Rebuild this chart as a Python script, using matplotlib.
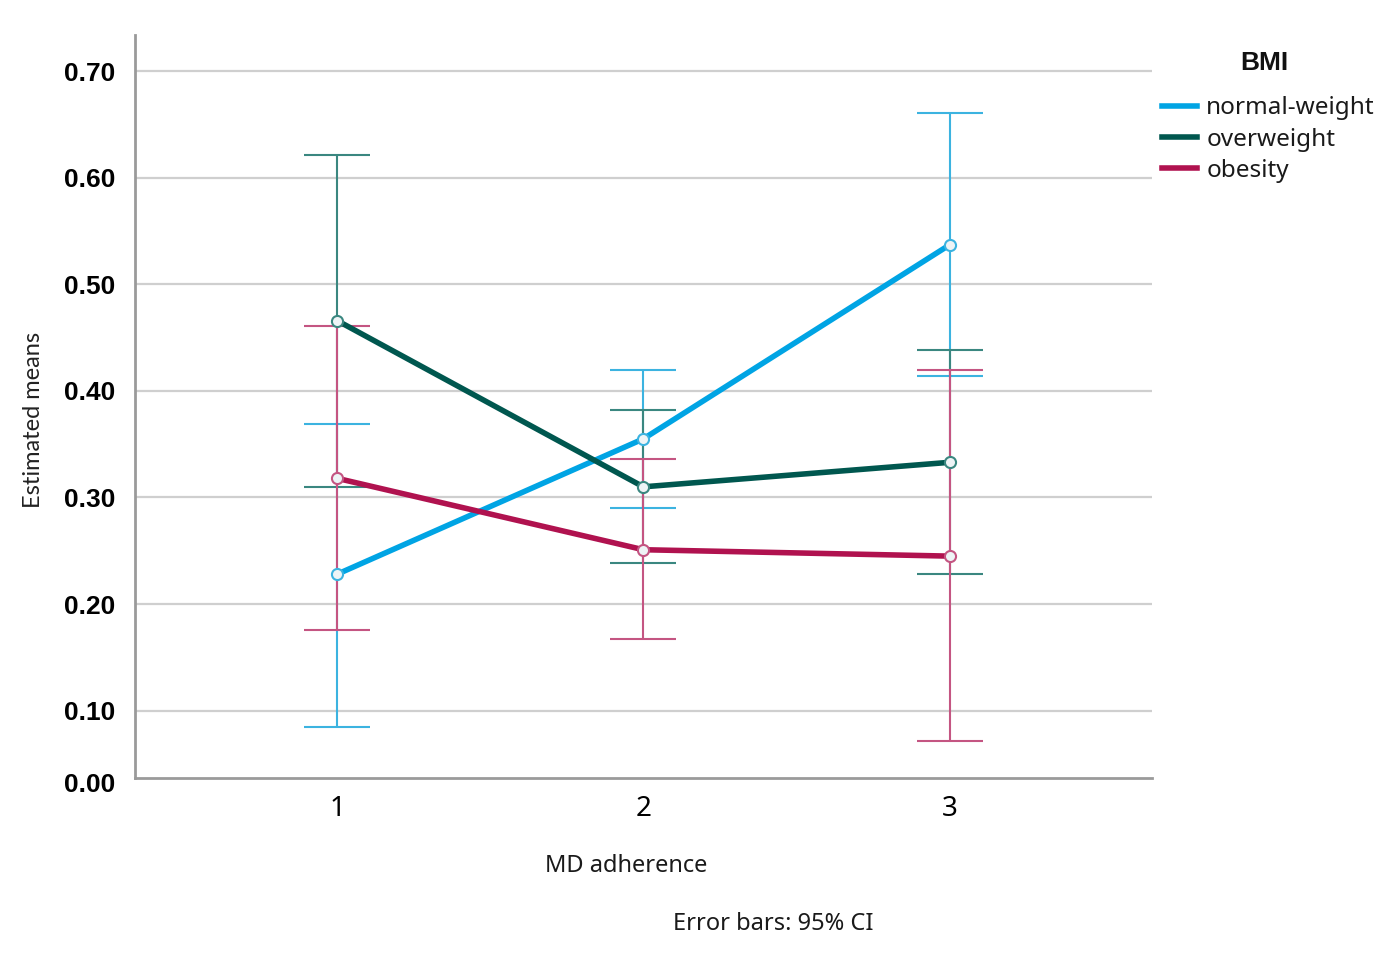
import numpy as np
import matplotlib.pyplot as plt

# MD adherence groups
groups = [1, 2, 3]
series = ['normal-weight', 'overweight', 'obesity']

# estimated means and 95% CI
normal_mean = [0.228, 0.355, 0.537]
normal_low = [0.085, 0.290, 0.414]
normal_high = [0.369, 0.420, 0.661]

over_mean = [0.466, 0.310, 0.333]
over_low = [0.310, 0.239, 0.228]
over_high = [0.621, 0.382, 0.438]

obese_mean = [0.318, 0.251, 0.245]
obese_low = [0.176, 0.167, 0.072]
obese_high = [0.461, 0.336, 0.420]

ytick_vals = [0.1, 0.2, 0.3, 0.4, 0.5, 0.6, 0.7]
ytick_labels = ['0.10', '0.20', '0.30', '0.40', '0.50', '0.60', '0.70']

line_colors = ['#00a4e4', '#00574f', '#b0124f']
bar_colors = ['#3cb3e0', '#3a8780', '#c45582']

fig = plt.figure(figsize=(13.91, 9.55), dpi=100)
ax = fig.add_axes([0.097, 0.1855, 0.731, 0.778])

ymin, ymax = 0.037, 0.734
ax.set_xlim(0.34, 3.66)
ax.set_ylim(ymin, ymax)

for y in ytick_vals:
    ax.axhline(y, color='#cfcfcf', lw=1.6, zorder=0)

data = [(normal_mean, normal_low, normal_high),
        (over_mean, over_low, over_high),
        (obese_mean, obese_low, obese_high)]

# error bars first
for (m, lo, hi), bc in zip(data, bar_colors):
    m = np.array(m)
    err = [m - np.array(lo), np.array(hi) - m]
    ax.errorbar(groups, m, yerr=err, fmt='none', ecolor=bc, elinewidth=1.5,
                capsize=24, capthick=1.5, zorder=2)

handles = []
for (m, lo, hi), lc, bc, name in zip(data, line_colors, bar_colors, series):
    ax.plot(groups, m, color=lc, lw=4, zorder=3, solid_capstyle='round')
    ax.plot(groups, m, 'o', ms=8, mfc='#eef4f6', mec=bc, mew=1.5, zorder=4)
    h, = ax.plot([], [], color=lc, lw=4, label=name)
    handles.append(h)

ax.set_yticks(ytick_vals)
ax.set_yticklabels(ytick_labels, fontsize=19, fontweight='bold',
                   family='Liberation Sans')
# the "0.00" label sits just below the axis line
ax.annotate('0.00', xy=(0, ymin), xycoords=('axes fraction', 'data'),
            xytext=(-14, -5), textcoords='offset points', ha='right', va='center',
            fontsize=19, fontweight='bold', family='Liberation Sans')
ax.set_xticks(groups)
ax.set_xticklabels([str(g) for g in groups], fontsize=20, family='Noto Sans')
ax.tick_params(axis='y', length=0, pad=14)
ax.tick_params(axis='x', length=0, pad=12)

for side in ['top', 'right']:
    ax.spines[side].set_visible(False)
for side in ['left', 'bottom']:
    ax.spines[side].set_color('#9a9a9a')
    ax.spines[side].set_linewidth(2)

fig.text(0.024, 0.56, 'Estimated means', rotation=90, ha='center', va='center',
         fontsize=17, family='Lato', color='#222222')
fig.text(0.45, 0.093, 'MD adherence', ha='center', va='center',
         fontsize=17, family='Noto Sans', color='#1a1a1a')
fig.text(0.556, 0.032, 'Error bars: 95% CI', ha='center', va='center',
         fontsize=17, family='Noto Sans', color='#1a1a1a')

fig.text(0.909, 0.934, 'BMI', ha='center', va='center', fontsize=19,
         fontweight='bold', family='Liberation Sans', color='#111111')
leg = fig.legend(handles=handles, loc='upper left', bbox_to_anchor=(0.82, 0.922),
                 frameon=False, handlelength=1.4, handletextpad=0.4,
                 labelspacing=0.3, prop={'family': 'Noto Sans', 'size': 17.5})
for t in leg.get_texts():
    t.set_color('#1a1a1a')

fig.savefig('out.png', dpi=100)
